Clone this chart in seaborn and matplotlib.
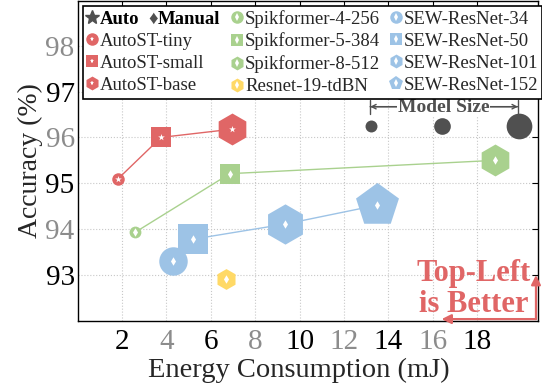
import matplotlib
matplotlib.use("Agg")
import pandas as pd
import matplotlib.pyplot as plt
import seaborn as sns
from matplotlib.lines import Line2D

# ---- data ----
models = ["AutoST-tiny", "AutoST-small", "AutoST-base",
          "Spikformer-4-256", "Spikformer-5-384", "Spikformer-8-512",
          "Resnet-19-tdBN",
          "SEW-ResNet-34", "SEW-ResNet-50", "SEW-ResNet-101", "SEW-ResNet-152"]
energy = [1.83, 3.76, 6.97, 2.59, 6.86, 18.8, 6.71, 4.31, 5.18, 9.34, 13.47]
accuracy = [95.10, 96.00, 96.18, 93.93, 95.21, 95.50, 92.91, 93.31, 93.78, 94.11, 94.52]
family = ["AutoST"] * 3 + ["Spikformer"] * 3 + ["Resnet"] + ["SEW"] * 4
is_auto = [True] * 3 + [False] * 8

# model size legend (three reference dots)
size_ref_x = [13.2, 16.4, 19.9]
size_ref_y = 96.24

x_ticks = [2, 4, 6, 8, 10, 12, 14, 16, 18]
y_ticks = [93, 94, 95, 96, 97, 98]

# ---- styles ----
RED = "#E06666"
GREEN = "#A9D18E"
BLUE = "#9DC3E6"
YELLOW = "#FFD966"
DARK = "#505050"
GREY_TICK = "#8c8c8c"
family_color = {"AutoST": RED, "Spikformer": GREEN, "Resnet": YELLOW, "SEW": BLUE}
shape = ["o", "s", "h", "o", "s", "h", "h", "o", "s", "h", "p"]
msize = [9, 15, 23, 8.5, 14.5, 23, 15, 20.5, 21.5, 29, 32.5]
size_ref_ms = [8.6, 12, 18.5]
LEG_FS = 13.5

sns.set_style("whitegrid")
plt.rcParams["font.family"] = ["Liberation Serif", "DejaVu Sans"]

df = pd.DataFrame({"model": models, "energy": energy, "accuracy": accuracy,
                   "family": family, "auto": is_auto})

fig = plt.figure(figsize=(5.42, 3.89), dpi=100)
ax = fig.add_axes([0.143, 0.175, 0.850, 0.822])

# connecting lines per family
for fam in ["AutoST", "Spikformer", "SEW"]:
    sub = df[df["family"] == fam]
    sns.lineplot(data=sub, x="energy", y="accuracy", sort=False, estimator=None,
                 color=family_color[fam], lw=1.0, ax=ax, zorder=2)

# markers (outer shape + white star / thin diamond)
for i, row in df.iterrows():
    c = family_color[row["family"]]
    sns.scatterplot(x=[row["energy"]], y=[row["accuracy"]], marker=shape[i],
                    s=msize[i] ** 2, color=c, linewidth=0, ax=ax, zorder=3)
    inner = "*" if row["auto"] else "d"
    sns.scatterplot(x=[row["energy"]], y=[row["accuracy"]], marker=inner,
                    s=(5.0 if row["auto"] else 4.3) ** 2, color="white",
                    linewidth=0, ax=ax, zorder=4)

# model size reference dots
for xx, ms in zip(size_ref_x, size_ref_ms):
    sns.scatterplot(x=[xx], y=[size_ref_y], s=ms ** 2, color=DARK, linewidth=0,
                    ax=ax, zorder=3)
ax.annotate("", xy=(13.18, 96.67), xytext=(19.84, 96.67),
            arrowprops=dict(arrowstyle="<->", color=DARK, lw=1.0,
                            shrinkA=0, shrinkB=0, mutation_scale=8))
ax.annotate("", xy=(13.18, 96.67), xytext=(19.84, 96.67),
            arrowprops=dict(arrowstyle="|-|", color=DARK, lw=1.0,
                            shrinkA=0, shrinkB=0, mutation_scale=5))
ax.text(16.5, 96.66, "Model Size", ha="center", va="center", fontsize=14,
        fontweight="bold", color=DARK, zorder=6,
        bbox=dict(facecolor="white", edgecolor="none", pad=0.5))

# "Top-Left is Better" note with elbow arrow
ax.text(17.86, 92.70, "Top-Left\nis Better", ha="center", va="center",
        fontsize=22, fontweight="bold", color=RED, linespacing=1.08, zorder=6)
corner = (20.65, 92.04)
ax.annotate("", xy=(16.4, corner[1]), xytext=corner,
            arrowprops=dict(arrowstyle="-|>", color=RED, lw=1.6,
                            shrinkA=0, shrinkB=0, mutation_scale=14), zorder=6)
ax.annotate("", xy=(corner[0], 93.0), xytext=corner,
            arrowprops=dict(arrowstyle="-|>", color=RED, lw=1.6,
                            shrinkA=0, shrinkB=0, mutation_scale=14), zorder=6)

# axes
ax.set_xlim(0, 20.75)
ax.set_ylim(92, 98.97)
ax.set_xticks(x_ticks)
ax.set_yticks(y_ticks)
ax.grid(True, linestyle=":", color="#c8c8c8", lw=0.8)
ax.tick_params(direction="in", top=True, right=True, length=4, width=0.8,
               labelsize=21, colors="black")
ax.tick_params(axis="x", pad=6)
ax.tick_params(axis="y", pad=2)
for k, lab in enumerate(ax.get_xticklabels()):
    lab.set_color("black" if k % 2 == 0 else GREY_TICK)
for k, lab in enumerate(ax.get_yticklabels()):
    lab.set_color("black" if k % 2 == 0 else GREY_TICK)
for sp in ax.spines.values():
    sp.set_color("black")
    sp.set_linewidth(1.0)
ax.set_xlabel("Energy Consumption (mJ)", fontsize=20.5, labelpad=2)
ax.xaxis.label.set_x(0.481)
ax.set_ylabel("Accuracy (%)", fontsize=20, labelpad=2)

# legend
handles = [Line2D([], [], ls="", marker="*", ms=10, color=DARK)]
labels = ["Auto  \u2666Manual"]   # placeholder, drawn again below with colours
legend_ms = {"o": 9, "s": 9, "h": 10, "p": 10}
for i, m in enumerate(models):
    c = family_color[family[i]]
    outer = Line2D([], [], ls="", marker=shape[i], ms=legend_ms[shape[i]], color=c, mew=0)
    inner = Line2D([], [], ls="", marker="*" if is_auto[i] else "d", ms=3.6,
                   color="white", mew=0)
    handles.append((outer, inner))
    labels.append(m)

leg = ax.legend(handles, labels, ncol=3, loc="upper left",
                bbox_to_anchor=(0.012, 0.985), frameon=True, fancybox=False,
                edgecolor="black", framealpha=1, fontsize=LEG_FS, handlelength=0.6,
                handletextpad=0.12, columnspacing=0.55, labelspacing=0.26,
                borderpad=0.2, borderaxespad=0)
leg.get_frame().set_linewidth(1.2)
leg.set_zorder(7)
first = leg.get_texts()[0]
first.set_fontweight("bold")
first.set_alpha(0)
t_auto = ax.annotate("Auto", xy=(0, 0), xycoords=first, ha="left", va="bottom",
                     fontsize=LEG_FS, fontweight="bold", color="black", zorder=8)
t_dia = ax.annotate("\u2666", xy=(1, 0), xycoords=t_auto, xytext=(6, 0),
                    textcoords="offset points", ha="left", va="bottom",
                    fontsize=LEG_FS, color=DARK, zorder=8)
ax.annotate("Manual", xy=(1, 0), xycoords=t_dia, ha="left", va="bottom",
            fontsize=LEG_FS, fontweight="bold", color="black", zorder=8)

fig.savefig("out.png", dpi=100)
